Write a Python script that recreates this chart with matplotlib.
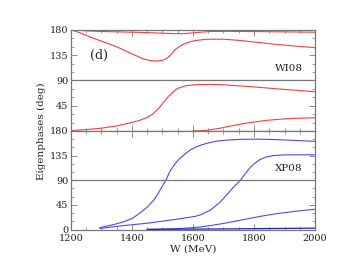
import matplotlib
matplotlib.use("Agg")
import matplotlib.pyplot as plt
from matplotlib.ticker import MultipleLocator

# WI08 eigenphases (top panel, red)
wi_w1 = [1200, 1250, 1300, 1400, 1450, 1500, 1541, 1570, 1600, 1630, 1660, 1700, 1800, 1900, 2000]
wi_d1 = [180, 178.5, 177.3, 176, 175.3, 174.3, 173.5, 173.5, 174.8, 176.3, 177.3, 177.6, 177.2, 176.6, 176]
wi_w2 = [1200, 1230, 1260, 1295, 1350, 1393, 1437, 1460, 1481, 1500, 1514, 1528, 1541, 1557,
         1574, 1590, 1607, 1639, 1670, 1705, 1760, 1810, 1869, 1930, 2000]
wi_d2 = [180, 175, 168, 161, 150, 139, 128.5, 125.5, 124.5, 126, 129.5, 136, 145, 151,
         156, 159, 161, 163.2, 163.6, 163.4, 161, 158, 154.5, 151.5, 148.5]
wi_w3 = [1200, 1250, 1300, 1350, 1380, 1420, 1450, 1470, 1490, 1505, 1520, 1535, 1550, 1575,
         1610, 1650, 1700, 1800, 1900, 2000]
wi_d3 = [0.5, 2.5, 5, 9, 12.5, 18, 24, 31, 42, 52, 62, 70, 76, 80.5,
         82.5, 83, 82.3, 78.5, 74, 70]
wi_w4 = [1600, 1625, 1650, 1690, 1720, 1776, 1842, 1900, 1950, 2000]
wi_d4 = [0, 0.3, 1.5, 5, 8.5, 14, 19, 21.5, 22.7, 23.5]

# XP08 eigenphases (bottom panel, blue)
xp_w1 = [1295, 1340, 1371, 1400, 1426, 1450, 1470, 1485, 1497, 1511, 1525, 1541, 1557, 1574,
         1590, 1607, 1630, 1649, 1680, 1705, 1760, 1812, 1870, 1922, 2000]
xp_d1 = [3.5, 9, 13.8, 20, 30, 41, 53, 65, 77, 90, 107, 120, 130, 138,
         145, 150, 155, 158, 161.5, 163, 164.8, 165, 164.3, 163, 161]
xp_w2 = [1295, 1371, 1450, 1497, 1550, 1607, 1623, 1656, 1689, 1710, 1732, 1754, 1770, 1787,
         1805, 1820, 1840, 1863, 1900, 2000]
xp_d2 = [2, 7, 11.5, 15, 19, 24, 26.5, 35, 50, 63, 77, 89, 101, 113,
         122, 128, 132.5, 135, 136.3, 136.5]
xp_w3 = [1450, 1500, 1550, 1590, 1623, 1660, 1700, 1765, 1820, 1874, 1940, 2000]
xp_d3 = [0, 0.6, 1.5, 3, 4.5, 7.5, 11, 18, 24, 29, 33.5, 37]
xp_w4 = [1450, 1700, 2000]
xp_d4 = [0.3, 1, 2.5]

red = '#ff3b3b'
blue = '#4848ff'
frame = '#777777'

plt.rcParams['font.family'] = ['DejaVu Serif']

fig = plt.figure(figsize=(3.49, 2.70), dpi=100)
ax1 = fig.add_axes([0.2034, 0.515, 0.6992, 0.374])
ax2 = fig.add_axes([0.2034, 0.150, 0.6992, 0.365], sharex=ax1)

for x, y in [(wi_w1, wi_d1), (wi_w2, wi_d2), (wi_w3, wi_d3), (wi_w4, wi_d4)]:
    ax1.plot(x, y, color=red, lw=0.8)
for x, y in [(xp_w1, xp_d1), (xp_w2, xp_d2), (xp_w3, xp_d3)]:
    ax2.plot(x, y, color=blue, lw=0.8)
ax2.plot(xp_w4, xp_d4, color='#1c1cc8', lw=0.9)

for ax in (ax1, ax2):
    ax.axhline(90, color=frame, lw=0.9)
    ax.set_xlim(1200, 2000)
    ax.set_ylim(0, 180)
    ax.xaxis.set_major_locator(MultipleLocator(200))
    ax.xaxis.set_minor_locator(MultipleLocator(50))
    ax.yaxis.set_major_locator(MultipleLocator(45))
    ax.yaxis.set_minor_locator(MultipleLocator(15))
    ax.tick_params(which='both', direction='in', top=True, right=True,
                   colors=frame, labelcolor='#222222', labelsize=7, pad=2)
    ax.tick_params(which='major', length=4, width=0.6)
    ax.tick_params(which='minor', length=2, width=0.5)
    for s in ax.spines.values():
        s.set_color(frame)
        s.set_linewidth(0.9)

ax1.tick_params(labelbottom=False)
ax2.tick_params(axis='x', pad=3)
ax1.set_yticks([0, 45, 90, 135, 180])
ax1.set_yticklabels(['', '45', '90', '135', '180'])

ax1.text(1262, 135, '(d)', fontsize=9, color='#222222', va='center')
ax1.text(1960, 112, 'WI08', fontsize=7.5, color='#222222', va='center', ha='right')
ax2.text(1960, 112, 'XP08', fontsize=7.5, color='#222222', va='center', ha='right')

fig.text(0.12, 0.515, 'Eigenphases (deg)', rotation=90, fontsize=7.5,
         color='#222222', ha='center', va='center')
ax2.set_xlabel('W (MeV)', fontsize=7.5, color='#222222', labelpad=1)

fig.savefig('out.png', dpi=100)
